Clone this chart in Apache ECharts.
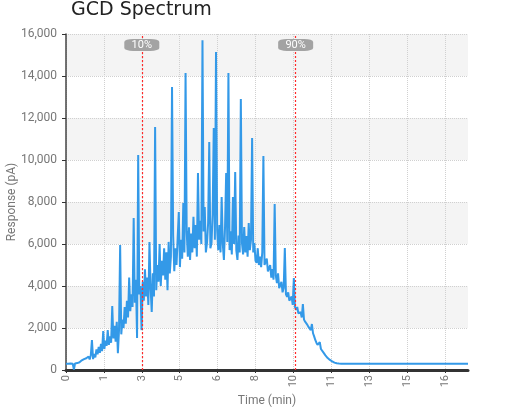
<!DOCTYPE html>
<html><head><meta charset="utf-8">
<script src="https://cdn.jsdelivr.net/npm/echarts@6/dist/echarts.min.js"></script>
<style>html,body{margin:0;padding:0;background:#fff}#c{width:508px;height:412px}</style>
</head><body><div id="c"></div>
<script>
const times = [
0.00,0.05,0.10,0.15,0.20,0.25,0.30,0.35,0.40,0.45,0.50,0.55,0.60,0.65,0.70,0.75,0.80,0.85,0.90,0.95,
1.00,1.05,1.10,1.15,1.20,1.25,1.30,1.35,1.40,1.45,1.50,1.55,1.60,1.65,1.70,1.75,1.80,1.85,1.90,1.95,
2.00,2.05,2.10,2.15,2.20,2.25,2.30,2.35,2.40,2.45,2.50,2.55,2.60,2.65,2.70,2.75,2.80,2.85,2.90,2.95,
3.00,3.05,3.10,3.15,3.20,3.25,3.30,3.35,3.40,3.45,3.50,3.55,3.60,3.65,3.70,3.75,3.80,3.85,3.90,3.95,
4.00,4.05,4.10,4.15,4.20,4.25,4.30,4.35,4.40,4.45,4.50,4.55,4.60,4.65,4.70,4.75,4.80,4.85,4.90,4.95,
5.00,5.05,5.10,5.15,5.20,5.25,5.30,5.35,5.40,5.45,5.50,5.55,5.60,5.65,5.70,5.75,5.80,5.85,5.90,5.95,
6.00,6.05,6.10,6.15,6.20,6.25,6.30,6.35,6.40,6.45,6.50,6.55,6.60,6.65,6.70,6.75,6.80,6.85,6.90,6.95,
7.00,7.05,7.10,7.15,7.20,7.25,7.30,7.35,7.40,7.45,7.50,7.55,7.60,7.65,7.70,7.75,7.80,7.85,7.90,7.95,
8.00,8.05,8.10,8.15,8.20,8.25,8.30,8.35,8.40,8.45,8.50,8.55,8.60,8.65,8.70,8.75,8.80,8.85,8.90,8.95,
9.00,9.05,9.10,9.15,9.20,9.25,9.30,9.35,9.40,9.45,9.50,9.55,9.60,9.65,9.70,9.75,9.80,9.85,9.90,9.95,
10.00,10.05,10.10,10.15,10.20,10.25,10.30,10.35,10.40,10.45,10.50,10.55,10.60,10.65,10.70,10.75,10.80,10.85,10.90,10.95,
11.00,11.05,11.10,11.15,11.20,11.25,11.30,11.35,11.40,11.45,11.50,11.55,11.60,11.65,11.70,11.75,11.80,11.85,11.90,11.95,
12.00,12.05,12.10,12.15,12.20,12.25,12.30,12.35,12.40,12.45,12.50,
13.0,14.0,15.0,16.0,17.0,17.82
];
const response = [
300,310,300,320,310,330,300,20,310,360,330,420,370,350,460,380,520,430,560,470,
640,500,700,1430,520,760,600,980,750,1100,820,1250,900,1850,1000,1400,1150,1900,1200,1600,
1300,3050,1500,2100,1350,2300,800,1900,5950,1700,2400,2000,3000,2200,3300,2500,4400,2800,3600,3000,
7240,3200,4300,1520,10240,3600,4000,1900,4200,3300,4800,3500,4400,3100,6100,3900,2760,4600,3500,11570,
3800,5000,4200,6000,4000,5200,4500,5800,4300,5600,3800,6100,4600,5400,13480,6400,4700,5800,5000,6300,
7520,4900,6200,5300,7950,5600,14140,6600,5400,6800,5240,6500,5600,7300,5800,6900,5400,9380,6200,7100,
6000,15700,6600,7760,5600,6050,7000,10860,5800,6050,7400,11520,6200,15140,6670,5710,6900,5600,8240,6000,
5240,6800,9380,6100,14140,5710,6600,5500,8240,6000,9430,5700,5240,6400,5600,12900,6050,5500,6810,5600,
6380,5400,7000,5710,6200,11050,5600,6050,5200,5100,5800,5000,5400,4900,5600,10190,5000,4950,5300,4700,
4620,5000,4400,4800,4300,7900,4500,4140,4600,3900,3810,4200,3700,3900,5810,3600,3480,3700,3300,3330,
3500,3100,4380,3000,2860,3000,2700,2620,2750,2500,3140,2400,2300,2330,2150,2050,2000,1900,2190,1750,
1600,1430,1300,1200,1150,1330,1000,950,850,780,700,640,570,520,480,440,410,380,350,330,
320,310,305,300,300,300,300,300,300,300,300,
300,300,300,300,300,300
];
const xTicks = [0,1.68,3.36,5.04,6.72,8.4,10.08,11.76,13.44,15.12,16.8];
const markers = [{name:'10%', t:3.36},{name:'90%', t:10.18}];
const yTickInterval = 2000;

const data = times.map((t,i)=>[t,response[i]]);
const labelFont = 'Roboto';
const chart = echarts.init(document.getElementById('c'));
chart.setOption({
  animation:false,
  title:{text:'GCD Spectrum',left:71,top:1,padding:0,textStyle:{fontFamily:'DejaVu Sans',fontSize:19,fontWeight:'normal',color:'#222'}},
  grid:{left:66,right:40,top:34,bottom:42,containLabel:false,outerBoundsMode:'none'},
  xAxis:{type:'value',min:0,max:17.82,
    name:'Time (min)',nameLocation:'middle',nameGap:20,
    nameTextStyle:{fontFamily:labelFont,fontSize:12,color:'#777'},
    axisLine:{show:true,lineStyle:{color:'#333',width:3}},
    axisTick:{show:true,customValues:xTicks,length:3,lineStyle:{color:'#333',width:1}},
    axisLabel:{customValues:xTicks,rotate:90,margin:5,fontFamily:labelFont,fontSize:11,color:'#777',
      formatter:v=>String(Math.floor(v+1e-9))},
    splitLine:{show:true,lineStyle:{color:'#d0d0d0',type:'dotted',width:1}}
  },
  yAxis:{type:'value',min:0,max:16000,interval:yTickInterval,
    name:'Response (pA)',nameLocation:'middle',nameGap:48,nameMoveOverlap:false,
    nameTextStyle:{fontFamily:labelFont,fontSize:12,color:'#777'},
    axisLine:{show:true,lineStyle:{color:'#444',width:1.5}},
    axisTick:{show:true,length:4,lineStyle:{color:'#333'}},
    axisLabel:{margin:9,fontFamily:labelFont,fontSize:12,color:'#777'},
    splitLine:{show:true,lineStyle:{color:'#d0d0d0',type:'dotted',width:1}},
    splitArea:{show:true,areaStyle:{color:['#ffffff','#f4f4f4']}}
  },
  series:[{
    type:'line',data:data,showSymbol:false,symbol:'none',
    lineStyle:{color:'#3399e8',width:2},
    markLine:{silent:true,symbol:'none',label:{show:false},
      emphasis:{disabled:true},
      lineStyle:{color:'#ff2a2a',type:[2,2],width:1.2,opacity:1},
      data:markers.map(m=>({xAxis:m.t,lineStyle:{color:'#ff2a2a'}}))},
    markPoint:{silent:true,symbol:'roundRect',symbolSize:[35,12],
      itemStyle:{color:'#a3a3a3'},
      label:{show:true,color:'#fff',fontFamily:labelFont,fontSize:11,formatter:p=>p.name},
      data:markers.map(m=>({name:m.name,coord:[m.t,15480]}))}
  }]
});
</script></body></html>
